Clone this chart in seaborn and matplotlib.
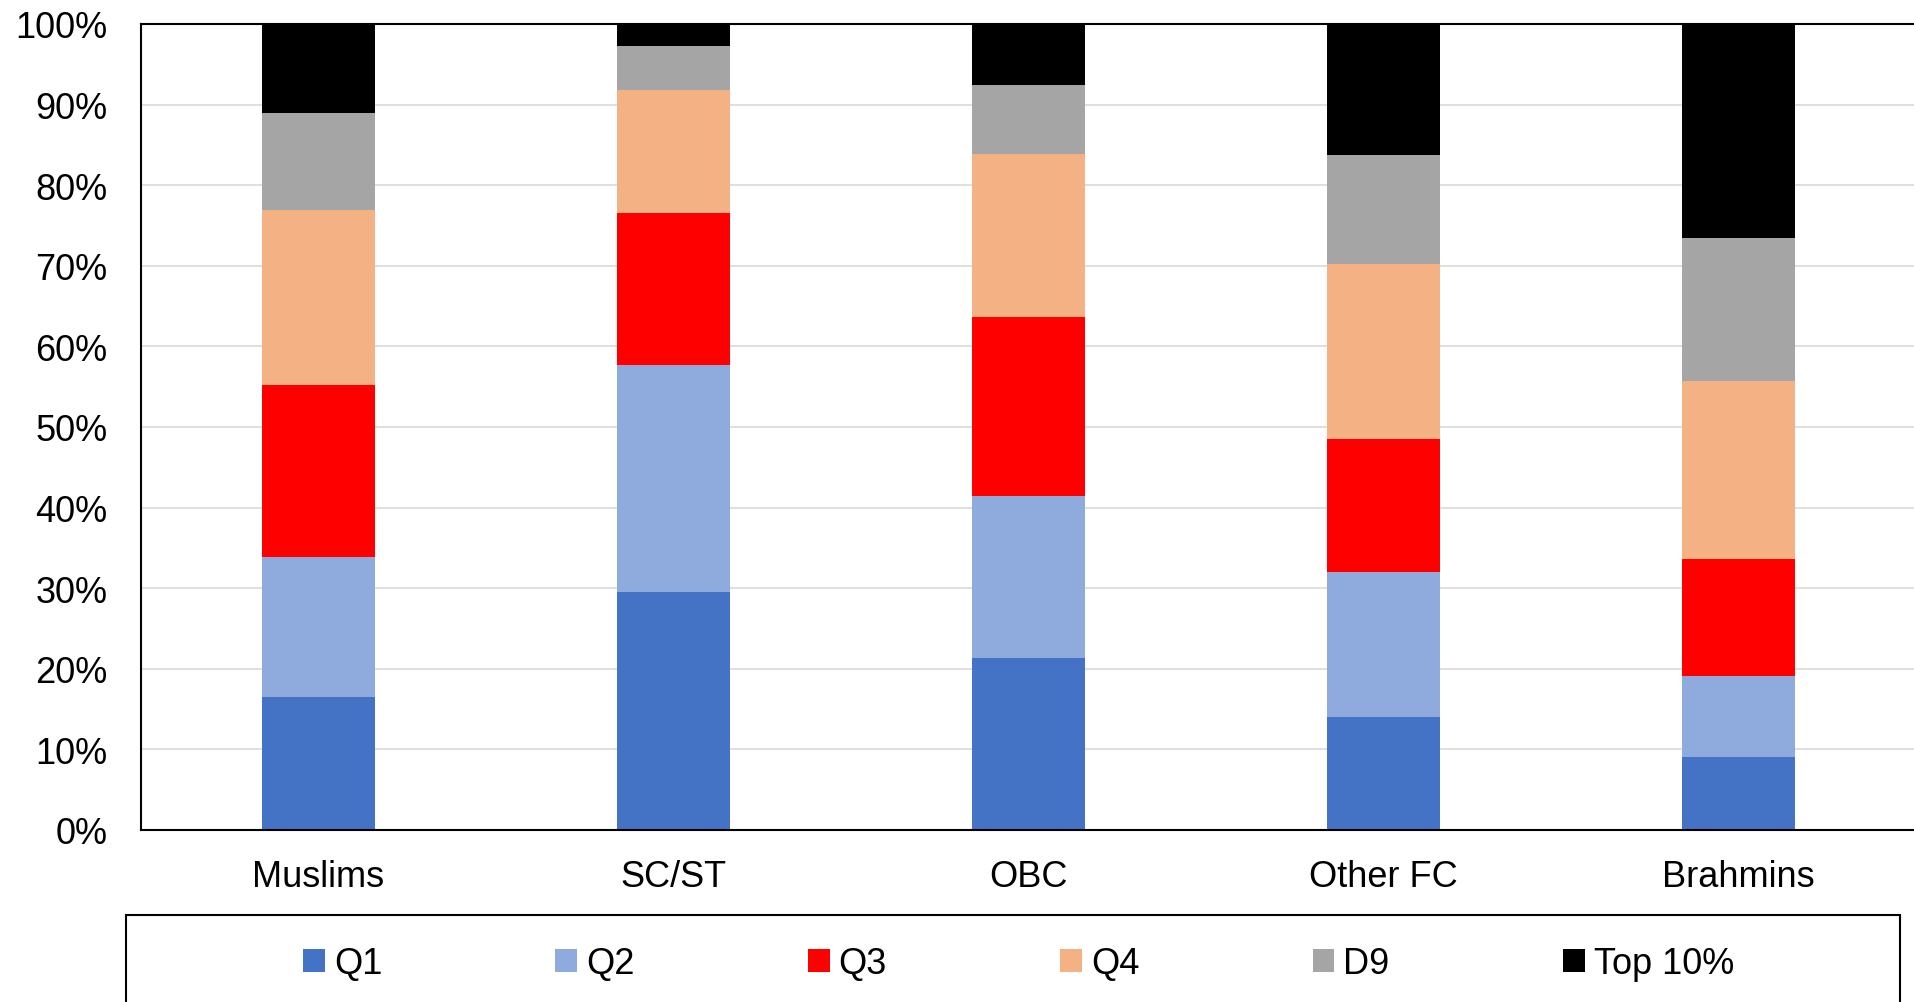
import numpy as np
import pandas as pd
import matplotlib
matplotlib.use("Agg")
import matplotlib.pyplot as plt
from matplotlib.patches import Patch, Rectangle
import seaborn as sns

# ==================================================
# Datos (porcentaje de cada grupo por tramo de ingreso)
# ==================================================
categories = ["Muslims", "SC/ST", "OBC", "Other FC", "Brahmins"]
series_names = ["Q1", "Q2", "Q3", "Q4", "D9", "Top 10%"]

q1 = [16.5, 29.55, 21.3, 14.0, 9.0]
q2 = [17.4, 28.1, 20.1, 17.95, 10.1]
q3 = [21.35, 18.85, 22.3, 16.55, 14.5]
q4 = [21.7, 15.3, 20.2, 21.7, 22.1]
d9 = [12.0, 5.5, 8.5, 13.6, 17.75]
top10 = [11.05, 2.7, 7.6, 16.2, 26.55]

colors = ["#4472C4", "#8FAADC", "#FF0000", "#F4B183", "#A5A5A5", "#000000"]

# ==================================================
# Preparación
# ==================================================
df = pd.DataFrame({"Q1": q1, "Q2": q2, "Q3": q3, "Q4": q4, "D9": d9, "Top 10%": top10},
                  index=categories)
# normalizar a 100% y acumular para apilar
df = df.div(df.sum(axis=1), axis=0) * 100
cum = df.cumsum(axis=1)

sns.set_style("white")
plt.rcParams["font.family"] = ["Liberation Sans", "DejaVu Sans"]
plt.rcParams["text.color"] = "black"
plt.rcParams["xtick.color"] = "black"
plt.rcParams["ytick.color"] = "black"

W, H = 1915, 1003
fig = plt.figure(figsize=(W / 100, H / 100), dpi=100)
ax = fig.add_axes([141 / W, 1 - 831 / H, (1916 - 141) / W, (831 - 25) / H])

# dibujar de arriba hacia abajo para que los segmentos queden apilados
for name, col in reversed(list(zip(series_names, colors))):
    sns.barplot(x=categories, y=cum[name].values, order=categories, color=col,
                saturation=1, width=0.316, linewidth=0, ax=ax)

ax.set_ylim(0, 100)
ax.set_xlim(-0.5, 4.5)
ax.set_yticks(np.arange(0, 101, 10))
ax.set_yticklabels([f"{v}%" for v in range(0, 101, 10)])
ax.yaxis.grid(True, color="#D9D9D9", linewidth=1.2)
ax.set_axisbelow(True)
ax.tick_params(axis="y", length=0, pad=24, labelsize=26, labelcolor="black")
ax.tick_params(axis="x", length=0, pad=21, labelsize=26, labelcolor="black")
ax.set_xlabel("")
ax.set_ylabel("")
for s in ax.spines.values():
    s.set_color("black")
    s.set_linewidth(1.5)

# leyenda con recuadro
handles = [Patch(facecolor=c, edgecolor="none") for c in colors]
fig.legend(handles, series_names, loc="center", bbox_to_anchor=(1018.5 / W, 1 - 965 / H),
           ncol=6, frameon=False, fontsize=26, handlelength=0.6, handleheight=0.6,
           handletextpad=0.25, columnspacing=4.8, labelcolor="black")
fig.patches.append(Rectangle((126 / W, -0.05), (1900 - 126) / W, 0.05 + 1 - 916 / H,
                             transform=fig.transFigure, fill=False,
                             edgecolor="black", linewidth=1.5))

fig.savefig("out.png", dpi=100)
